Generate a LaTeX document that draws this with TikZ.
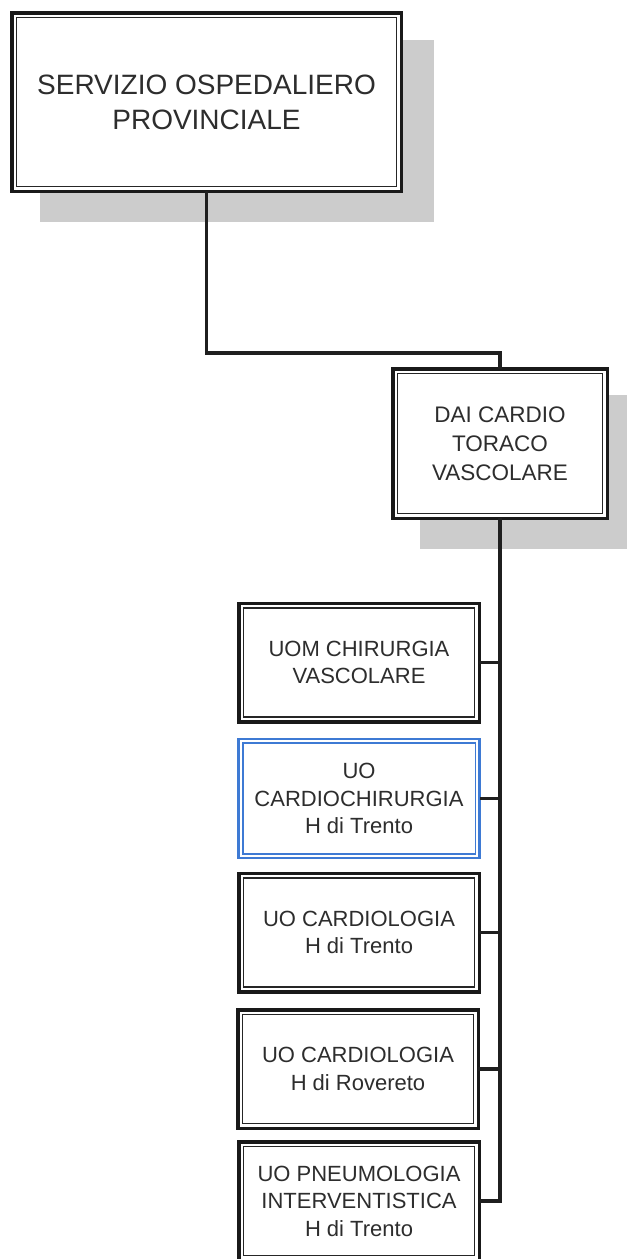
\documentclass[tikz,border=0pt]{standalone}
\usepackage{fontspec}
\setmainfont{Liberation Sans}
\definecolor{shadowgray}{RGB}{204,204,204}
\definecolor{boxblue}{RGB}{62,122,212}
\definecolor{txt}{RGB}{45,45,45}
\begin{document}
\begin{tikzpicture}[x=1pt,y=-1pt,
  orgbox/.style={draw=black!90, fill=white, line width=3.5pt,
    inner sep=0pt, outer sep=0pt, align=center, text=txt},
  bluebox/.style={orgbox, draw=boxblue, line width=2.6pt},
  innerline/.style={draw=black!85, line width=1.6pt},
  blueinner/.style={draw=boxblue, line width=1.6pt},
  childfont/.style={font=\fontsize{22}{27.5}\selectfont},
  link/.style={line width=3.5pt, draw=black!88}]
\useasboundingbox (0,0) rectangle (627,1259);
\clip (0,0) rectangle (627,1259);
% shadows
\fill[shadowgray] (40,40) rectangle (434,222);
\fill[shadowgray] (420,395) rectangle (627,549);
\coordinate (bend) at (206.5,353);
% boxes
\node[orgbox, minimum width=389.5pt, minimum height=178.5pt,
  font=\fontsize{28}{35}\selectfont] (sop) at (206.5,102)
  {SERVIZIO OSPEDALIERO\\PROVINCIALE};
\node[orgbox, minimum width=214.5pt, minimum height=149.5pt,
  font=\fontsize{22.5}{29}\selectfont] (dai) at (500,443.5)
  {DAI CARDIO\\TORACO\\VASCOLARE};
\node[orgbox, childfont, minimum width=240.5pt, minimum height=118.5pt] (c1) at (359,662.5)
  {UOM CHIRURGIA\\VASCOLARE};
\node[bluebox, childfont, minimum width=241pt, minimum height=119pt] (c2) at (359,798.5)
  {UO\\CARDIOCHIRURGIA\\H di Trento};
\node[orgbox, childfont, minimum width=240.5pt, minimum height=118.5pt] (c3) at (359,932.5)
  {UO CARDIOLOGIA\\H di Trento};
\node[orgbox, childfont, minimum width=240.5pt, minimum height=118.5pt] (c4) at (358,1069)
  {UO CARDIOLOGIA\\H di Rovereto};
\node[orgbox, childfont, minimum width=240.5pt, minimum height=118.5pt] (c5) at (359,1201)
  {UO PNEUMOLOGIA\\INTERVENTISTICA\\H di Trento};
% inner lines of the double borders
\foreach \n in {sop,dai,c1,c3,c4,c5}{
  \draw[innerline] ([shift={(4.6,4.6)}]\n.north west) rectangle ([shift={(-4.6,-4.6)}]\n.south east);
}
\draw[blueinner] ([shift={(4.2,4.2)}]c2.north west) rectangle ([shift={(-4.2,-4.2)}]c2.south east);
% connectors
\draw[link] (sop.south) -- (bend) -| (dai.north);
\foreach \c in {c1,c2,c3,c4,c5}{
  \draw[link] (dai.south) |- (\c.east);
}
\end{tikzpicture}
\end{document}
